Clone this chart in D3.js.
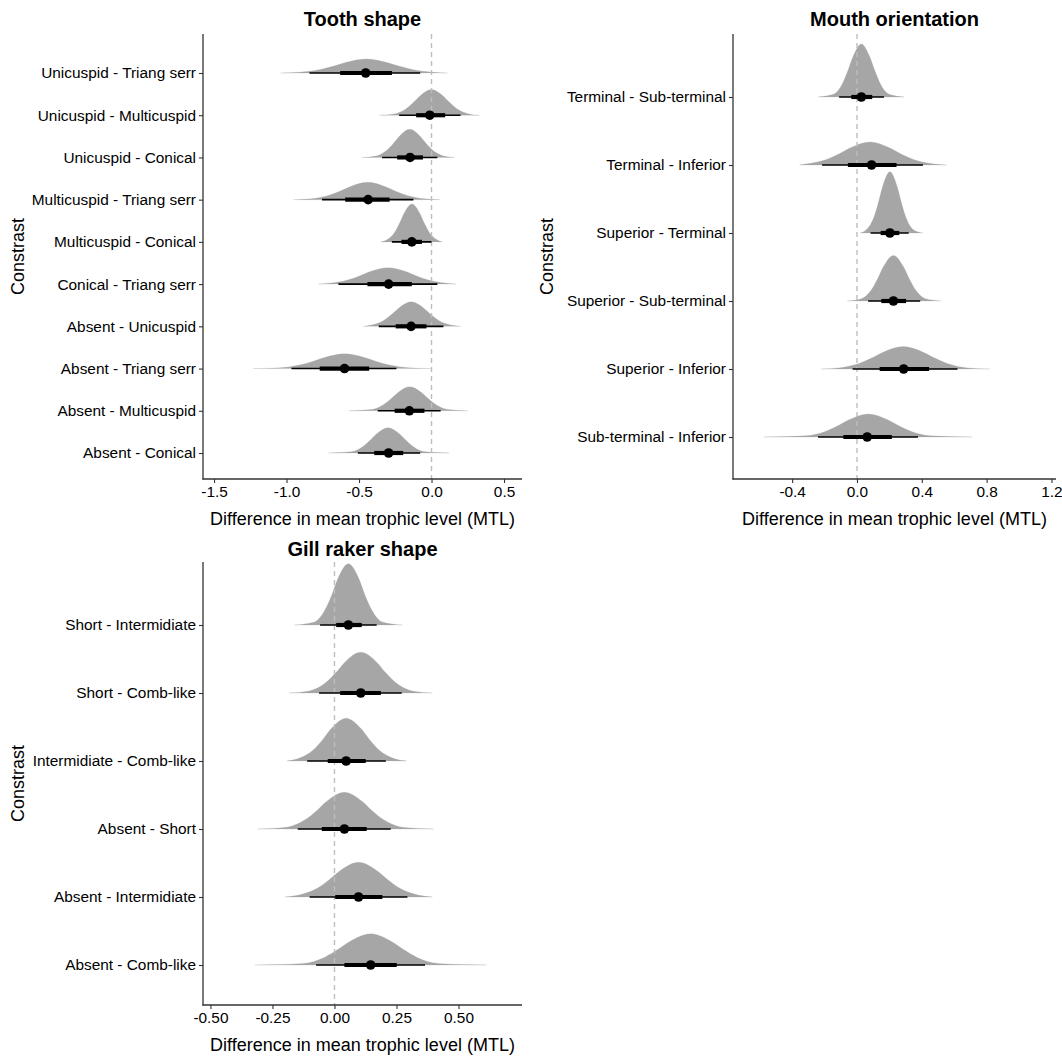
<!DOCTYPE html>
<html>
<head>
<meta charset="utf-8">
<title>Halfeye contrasts</title>
<script src="https://d3js.org/d3.v7.min.js"></script>
<style>
  body { margin: 0; background: #fff; }
  svg text { font-family: "Liberation Sans", Arial, sans-serif; fill: #000; }
</style>
</head>
<body>
<script>
// ---- data ----
// height levels that each slab passes through (fraction of its own peak)
var slabLevels = [0, 0.05, 0.25, 0.5, 0.75, 1, 0.75, 0.5, 0.25, 0.05, 0];

var toothLabels = ["Unicuspid - Triang serr", "Unicuspid - Multicuspid", "Unicuspid - Conical",
  "Multicuspid - Triang serr", "Multicuspid - Conical", "Conical - Triang serr",
  "Absent - Unicuspid", "Absent - Triang serr", "Absent - Multicuspid", "Absent - Conical"];
var toothMedian = [-0.454, -0.012, -0.148, -0.437, -0.136, -0.296, -0.141, -0.600, -0.153, -0.296];
var toothQ66 = [[-0.63, -0.273], [-0.106, 0.094], [-0.237, -0.059], [-0.595, -0.289], [-0.207, -0.066],
  [-0.442, -0.136], [-0.247, -0.035], [-0.771, -0.43], [-0.254, -0.049], [-0.395, -0.195]];
var toothQ95 = [[-0.842, -0.078], [-0.223, 0.2], [-0.341, 0.04], [-0.755, -0.125], [-0.273, 0.0],
  [-0.642, 0.04], [-0.364, 0.082], [-0.966, -0.242], [-0.371, 0.063], [-0.508, -0.078]];
var toothSlabX = [
  [-1.04, -0.916, -0.767, -0.674, -0.594, -0.45, -0.306, -0.226, -0.133, 0.016, 0.11],
  [-0.36, -0.257, -0.175, -0.124, -0.08, 0.0, 0.08, 0.124, 0.175, 0.257, 0.33],
  [-0.48, -0.383, -0.309, -0.262, -0.222, -0.15, -0.078, -0.038, 0.009, 0.083, 0.16],
  [-0.95, -0.832, -0.707, -0.629, -0.562, -0.44, -0.318, -0.251, -0.173, -0.048, 0.06],
  [-0.35, -0.311, -0.255, -0.22, -0.19, -0.135, -0.08, -0.05, -0.015, 0.041, 0.075],
  [-0.78, -0.709, -0.579, -0.497, -0.427, -0.30, -0.173, -0.103, -0.021, 0.109, 0.17],
  [-0.47, -0.414, -0.327, -0.272, -0.225, -0.14, -0.055, -0.008, 0.047, 0.134, 0.2],
  [-1.23, -1.046, -0.904, -0.815, -0.738, -0.60, -0.462, -0.385, -0.296, -0.154, 0.0],
  [-0.57, -0.417, -0.332, -0.279, -0.233, -0.15, -0.067, -0.021, 0.032, 0.117, 0.25],
  [-0.71, -0.557, -0.475, -0.424, -0.38, -0.30, -0.22, -0.176, -0.125, -0.043, 0.12]];
var toothPeak = [0.33, 0.61, 0.67, 0.41, 0.9, 0.39, 0.58, 0.35, 0.57, 0.6];
var toothTicks = [-1.5, -1.0, -0.5, 0.0, 0.5];

var mouthLabels = ["Terminal - Sub-terminal", "Terminal - Inferior", "Superior - Terminal",
  "Superior - Sub-terminal", "Superior - Inferior", "Sub-terminal - Inferior"];
var mouthMedian = [0.027, 0.09, 0.203, 0.225, 0.288, 0.063];
var mouthQ66 = [[-0.035, 0.094], [-0.056, 0.244], [0.146, 0.261], [0.15, 0.303], [0.14, 0.445], [-0.084, 0.215]];
var mouthQ95 = [[-0.11, 0.167], [-0.215, 0.407], [0.084, 0.319], [0.069, 0.39], [-0.027, 0.62], [-0.24, 0.376]];
var mouthSlabX = [
  [-0.24, -0.145, -0.09, -0.056, -0.026, 0.027, 0.08, 0.11, 0.144, 0.199, 0.29],
  [-0.355, -0.307, -0.184, -0.106, -0.04, 0.08, 0.2, 0.266, 0.344, 0.467, 0.553],
  [0.02, 0.056, 0.103, 0.132, 0.157, 0.203, 0.249, 0.274, 0.303, 0.35, 0.407],
  [-0.06, 0.027, 0.09, 0.129, 0.163, 0.225, 0.287, 0.321, 0.36, 0.423, 0.52],
  [-0.22, -0.115, 0.013, 0.093, 0.161, 0.285, 0.409, 0.477, 0.557, 0.685, 0.82],
  [-0.574, -0.315, -0.192, -0.115, -0.049, 0.07, 0.189, 0.255, 0.332, 0.455, 0.71]];
var mouthPeak = [0.78, 0.34, 0.9, 0.67, 0.33, 0.34];
var mouthTicks = [-0.4, 0.0, 0.4, 0.8, 1.2];

var gillLabels = ["Short - Intermidiate", "Short - Comb-like", "Intermidiate - Comb-like",
  "Absent - Short", "Absent - Intermidiate", "Absent - Comb-like"];
var gillMedian = [0.056, 0.106, 0.047, 0.04, 0.097, 0.146];
var gillQ66 = [[0.007, 0.11], [0.023, 0.187], [-0.027, 0.126], [-0.051, 0.13], [0.003, 0.193], [0.04, 0.251]];
var gillQ95 = [[-0.058, 0.17], [-0.062, 0.271], [-0.11, 0.207], [-0.148, 0.227], [-0.1, 0.294], [-0.074, 0.365]];
var gillSlabX = [
  [-0.161, -0.081, -0.038, -0.01, 0.013, 0.056, 0.099, 0.122, 0.15, 0.193, 0.274],
  [-0.183, -0.102, -0.036, 0.006, 0.041, 0.106, 0.171, 0.206, 0.248, 0.314, 0.395],
  [-0.192, -0.149, -0.087, -0.047, -0.014, 0.047, 0.108, 0.141, 0.181, 0.243, 0.291],
  [-0.31, -0.193, -0.119, -0.072, -0.032, 0.04, 0.112, 0.152, 0.199, 0.273, 0.40],
  [-0.2, -0.148, -0.07, -0.021, 0.021, 0.097, 0.173, 0.215, 0.264, 0.342, 0.395],
  [-0.32, -0.126, -0.039, 0.015, 0.062, 0.146, 0.23, 0.277, 0.331, 0.418, 0.613]];
var gillPeak = [0.9, 0.6, 0.63, 0.54, 0.51, 0.46];
var gillTicks = [-0.5, -0.25, 0.0, 0.25, 0.5];

var svg = d3.select("body").append("svg")
  .attr("width", 1062)
  .attr("height", 1057);

function drawPanel(p) {
  var g = svg.append("g");
  var x = d3.scaleLinear().domain(p.domain).range([p.x0, p.x1]);
  var y = d3.scalePoint().domain(p.labels).range([p.rowTop, p.rowBot]);
  var step = y.step();

  // slabs
  var area = d3.area()
    .x(function(d) { return x(d[0]); })
    .y0(function(d) { return d[2]; })
    .y1(function(d) { return d[2] - d[1]; })
    .curve(d3.curveMonotoneX);
  p.labels.forEach(function(lab, i) {
    var pts = p.slabX[i].map(function(v, j) {
      return [v, slabLevels[j] * p.peak[i] * step, y(lab)];
    });
    g.append("path").attr("d", area(pts))
      .attr("fill", "#a6a6a6")
      .attr("stroke", "#a6a6a6").attr("stroke-width", 0.4).attr("stroke-opacity", 0.5);
  });

  // zero reference line
  g.append("line")
    .attr("x1", x(0)).attr("x2", x(0))
    .attr("y1", p.y0).attr("y2", p.y1)
    .attr("stroke", "#bdbdbd").attr("stroke-width", 1.4)
    .attr("stroke-dasharray", "5,4");

  // intervals + medians
  p.labels.forEach(function(lab, i) {
    var yy = y(lab);
    g.append("line").attr("x1", x(p.q95[i][0])).attr("x2", x(p.q95[i][1]))
      .attr("y1", yy).attr("y2", yy).attr("stroke", "#000").attr("stroke-width", 1.6);
    g.append("line").attr("x1", x(p.q66[i][0])).attr("x2", x(p.q66[i][1]))
      .attr("y1", yy).attr("y2", yy).attr("stroke", "#000").attr("stroke-width", 4.2);
    g.append("circle").attr("cx", x(p.median[i])).attr("cy", yy).attr("r", 4.8).attr("fill", "#000");
  });

  // axes
  var yAxis = g.append("g").attr("transform", "translate(" + p.x0 + ",0)")
    .call(d3.axisLeft(y).tickSize(4).tickPadding(3));
  var xAxis = g.append("g").attr("transform", "translate(0," + p.y1 + ")")
    .call(d3.axisBottom(x).tickValues(p.ticks).tickSize(4).tickPadding(3)
      .tickFormat(function(d) { return d.toFixed(p.digits); }));
  [yAxis, xAxis].forEach(function(a) {
    a.select(".domain").remove();
    a.selectAll(".tick line").attr("stroke", "#333").attr("stroke-width", 1.1);
    a.selectAll(".tick text").attr("font-size", 15.4).attr("fill", "#000")
      .style("font-family", "'Liberation Sans', Arial, sans-serif");
  });
  g.append("line").attr("x1", p.x0).attr("x2", p.x0).attr("y1", p.y0).attr("y2", p.y1 + 0.6)
    .attr("stroke", "#333").attr("stroke-width", 1.3);
  g.append("line").attr("x1", p.x0 - 0.6).attr("x2", p.x1).attr("y1", p.y1).attr("y2", p.y1)
    .attr("stroke", "#333").attr("stroke-width", 1.3);

  // texts
  g.append("text").attr("x", (p.x0 + p.x1) / 2).attr("y", p.titleY).attr("dy", "0.36em")
    .attr("text-anchor", "middle").attr("font-size", 20).attr("font-weight", "bold")
    .text(p.title);
  g.append("text").attr("x", (p.x0 + p.x1) / 2).attr("y", p.y1 + 40).attr("dy", "0.36em")
    .attr("text-anchor", "middle").attr("font-size", 18)
    .text("Difference in mean trophic level (MTL)");
  g.append("text")
    .attr("transform", "translate(" + p.ylabX + "," + ((p.y0 + p.y1) / 2) + ") rotate(-90)")
    .attr("dy", "0.36em").attr("text-anchor", "middle").attr("font-size", 18)
    .text("Constrast");
}

drawPanel({
  title: "Tooth shape", titleY: 19, ylabX: 18,
  x0: 203, x1: 522, y0: 34, y1: 479, domain: [-1.576, 0.624],
  rowTop: 73, rowBot: 453, labels: toothLabels, median: toothMedian,
  q66: toothQ66, q95: toothQ95, slabX: toothSlabX, peak: toothPeak,
  ticks: toothTicks, digits: 1
});
drawPanel({
  title: "Mouth orientation", titleY: 19, ylabX: 547,
  x0: 733, x1: 1056, y0: 34, y1: 479, domain: [-0.765, 1.228],
  rowTop: 97, rowBot: 437, labels: mouthLabels, median: mouthMedian,
  q66: mouthQ66, q95: mouthQ95, slabX: mouthSlabX, peak: mouthPeak,
  ticks: mouthTicks, digits: 1
});
drawPanel({
  title: "Gill raker shape", titleY: 549, ylabX: 18,
  x0: 203, x1: 522, y0: 562, y1: 1005, domain: [-0.530, 0.756],
  rowTop: 625, rowBot: 965, labels: gillLabels, median: gillMedian,
  q66: gillQ66, q95: gillQ95, slabX: gillSlabX, peak: gillPeak,
  ticks: gillTicks, digits: 2
});
</script>
</body>
</html>
